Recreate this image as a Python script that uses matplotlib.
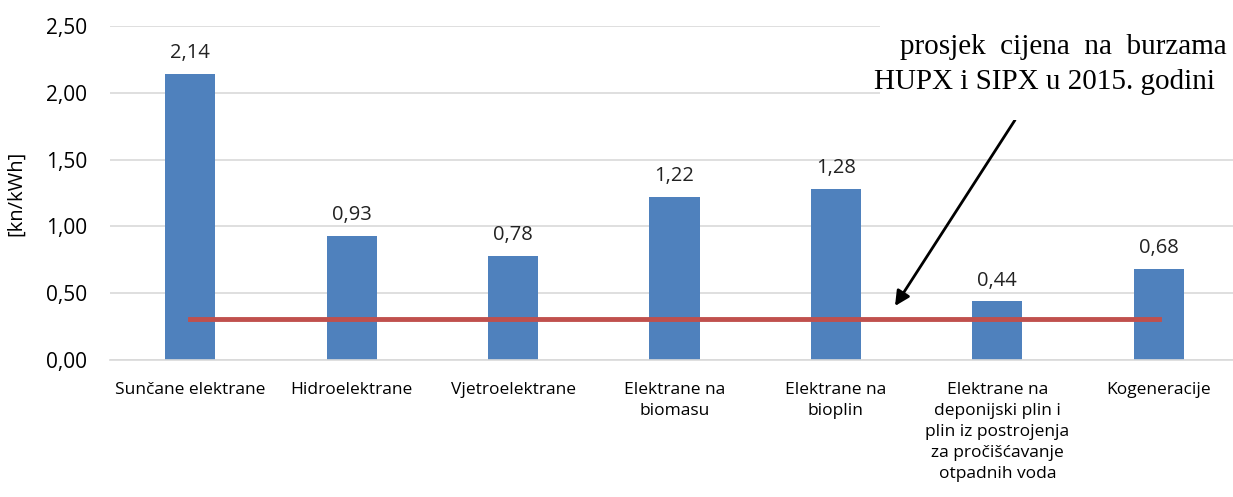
import matplotlib.pyplot as plt
from matplotlib.patches import Rectangle

categories = ['Sunčane elektrane', 'Hidroelektrane', 'Vjetroelektrane',
              'Elektrane na\nbiomasu', 'Elektrane na\nbioplin',
              'Elektrane na\ndeponijski plin i\nplin iz postrojenja\nza pročišćavanje\notpadnih voda',
              'Kogeneracije']
prices = [2.14, 0.93, 0.78, 1.22, 1.28, 0.44, 0.68]
market_avg = 0.31
yticks = [0.0, 0.5, 1.0, 1.5, 2.0, 2.5]

plt.rcParams['font.family'] = ['Open Sans', 'DejaVu Sans']

fig = plt.figure(figsize=(12.33, 4.97), dpi=100)
ax = fig.add_axes([109.5 / 1233, 137 / 497, 1130 / 1233, 334 / 497])

x = list(range(len(categories)))
ax.bar(x, prices, width=0.31, color='#4f81bd', zorder=2)
ax.plot([x[0], x[-1]], [market_avg, market_avg], color='#c0504d', lw=3.5, zorder=3)

for xi, v in zip(x, prices):
    ax.text(xi, v + 0.08, f'{v:.2f}'.replace('.', ','), ha='center', va='bottom',
            fontsize=14.5, color='#222222')

ax.set_xlim(-0.5, len(categories) - 0.5)
ax.set_ylim(0, 2.5)
ax.set_yticks(yticks)
ax.set_yticklabels([f'{t:.2f}'.replace('.', ',') for t in yticks], fontsize=15)
ax.set_xticks(x)
ax.set_xticklabels(categories, fontsize=12.5, linespacing=1.42, va='top')
ax.tick_params(length=0, pad=16)
ax.tick_params(axis='x', pad=16)
ax.set_ylabel('[kn/kWh]', fontsize=14.5, labelpad=14)
ax.grid(axis='y', color='#d9d9d9', lw=1.2, zorder=0)
for s in ['top', 'right', 'left']:
    ax.spines[s].set_visible(False)
ax.spines['bottom'].set_color('#d9d9d9')
ax.spines['bottom'].set_linewidth(1.2)

# annotation box with serif text
fig.patches.append(Rectangle((880 / 1233, 1 - 120 / 497), 360 / 1233, 110 / 497,
                             transform=fig.transFigure, facecolor='white',
                             edgecolor='none', zorder=5))
fig.text(900 / 1233, 1 - 47 / 497, 'prosjek  cijena  na  burzama',
         fontsize=21, family='Liberation Serif', va='center', zorder=6)
fig.text(874 / 1233, 1 - 82 / 497, 'HUPX i SIPX u 2015. godini',
         fontsize=21, family='Liberation Serif', va='center', zorder=6)
ax.annotate('', xy=(895 / 1233, 1 - 306 / 497), xycoords='figure fraction',
            xytext=(1015 / 1233, 1 - 120 / 497), textcoords='figure fraction',
            arrowprops=dict(arrowstyle='-|>', color='black', lw=2,
                            mutation_scale=22, shrinkA=0, shrinkB=0),
            zorder=7, annotation_clip=False)

fig.savefig('out.png', dpi=100)
